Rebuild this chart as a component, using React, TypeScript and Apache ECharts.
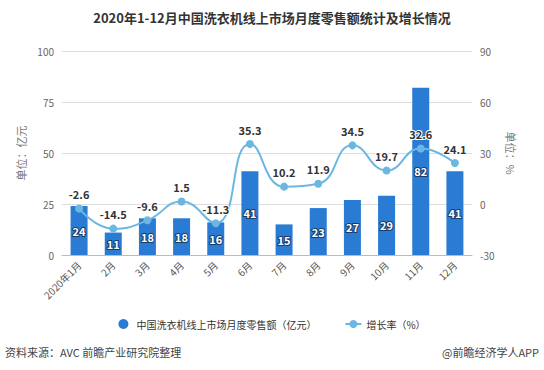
import React, { useEffect, useRef } from "react";
import * as echarts from "echarts";

const categories = ["2020年1月", "2月", "3月", "4月", "5月", "6月", "7月", "8月", "9月", "10月", "11月", "12月"];
const salesValues = [24, 11, 18, 18, 16, 41, 15, 23, 27, 29, 82, 41];
const growthValues = [-2.6, -14.5, -9.6, 1.5, -11.3, 35.3, 10.2, 11.9, 34.5, 19.7, 32.6, 24.1];
const barName = "中国洗衣机线上市场月度零售额（亿元）";
const lineName = "增长率（%）";

export default function App() {
  const ref = useRef<HTMLDivElement>(null);
  useEffect(() => {
    if (!ref.current) return;
    const chart = echarts.init(ref.current, undefined, { renderer: "svg" });
    const font = "'Noto Sans CJK SC', 'Noto Sans', sans-serif";
    chart.setOption({
      animation: false,
      textStyle: { fontFamily: font },
      title: {
        text: "2020年1-12月中国洗衣机线上市场月度零售额统计及增长情况",
        left: "center",
        top: 6,
        textStyle: { fontSize: 13, fontWeight: "bold", color: "#333", fontFamily: font },
      },
      grid: { left: 62, right: 72, top: 51, bottom: 115 },
      legend: {
        bottom: 36,
        left: "center",
        itemGap: 28,
        textStyle: { fontSize: 10, color: "#333" },
        data: [
          { name: barName, icon: "circle" },
          { name: lineName },
        ],
        itemWidth: 16,
        itemHeight: 10,
      },
      xAxis: {
        type: "category",
        data: categories,
        axisLine: { lineStyle: { color: "#bbb" } },
        axisTick: { show: false },
        axisLabel: { rotate: 45, fontSize: 10, color: "#555", margin: 8, interval: 0 },
      },
      yAxis: [
        {
          type: "value",
          min: 0,
          max: 100,
          interval: 25,
          name: "单位：亿元",
          nameLocation: "middle",
          nameGap: 32,
          nameTextStyle: { color: "#777", fontSize: 11 },
          axisLabel: { color: "#666", fontSize: 10 },
          splitLine: { lineStyle: { color: "#ddd" } },
          axisLine: { show: false },
        },
        {
          type: "value",
          min: -30,
          max: 90,
          interval: 30,
          name: "单位：%",
          nameLocation: "middle",
          nameRotate: -90,
          nameGap: 30,
          nameTextStyle: { color: "#777", fontSize: 11 },
          axisLabel: { color: "#666", fontSize: 10 },
          splitLine: { show: false },
          axisLine: { show: false },
        },
      ],
      series: [
        {
          name: barName,
          type: "bar",
          data: salesValues,
          barWidth: 17,
          itemStyle: { color: "#2a7bd3" },
          label: {
            show: true,
            position: "inside",
            color: "#fff",
            fontSize: 11,
            fontWeight: "bold",
            textBorderColor: "#1a3b66",
            textBorderWidth: 2,
          },
        },
        {
          name: lineName,
          type: "line",
          yAxisIndex: 1,
          data: growthValues,
          smooth: true,
          symbol: "circle",
          symbolSize: 8,
          lineStyle: { color: "#6bb7e3", width: 2 },
          itemStyle: { color: "#6bb7e3" },
          label: {
            show: true,
            position: "top",
            color: "#333",
            fontSize: 11,
            fontWeight: "bold",
            textBorderColor: "#fff",
            textBorderWidth: 2,
          },
        },
      ],
      graphic: [
        {
          type: "text",
          left: 5,
          top: 346,
          style: { text: "资料来源：AVC 前瞻产业研究院整理", fill: "#444", fontSize: 11, fontFamily: font },
        },
        {
          type: "text",
          right: 5,
          top: 346,
          style: { text: "@前瞻经济学人APP", fill: "#444", fontSize: 11, fontFamily: font },
        },
      ],
    });
    return () => chart.dispose();
  }, []);
  return <div ref={ref} style={{ width: 544, height: 370, position: "absolute", left: 0, top: 0 }} />;
}
